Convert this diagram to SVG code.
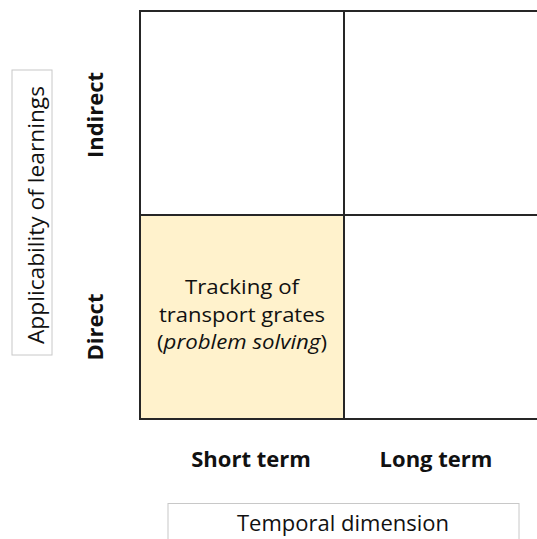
<svg xmlns="http://www.w3.org/2000/svg" width="537" height="539" viewBox="0 0 537 539">
<style>
.cell{fill:#ffffff;stroke:#262626;stroke-width:2}
.hl{fill:#FFF2CC}
.t{font-family:"Open Sans","Noto Sans",sans-serif;font-size:22px;fill:#111;text-anchor:middle}
.c{font-size:20px}
.b{font-weight:bold}
.box{fill:#ffffff;stroke:#c8c8c8;stroke-width:1}
</style>
<rect width="537" height="539" fill="#ffffff"/>
<g id="axis-y">
<rect class="box" x="12" y="70" width="40" height="285"/>
<text class="t" transform="translate(44,215) rotate(-90)" textLength="258" lengthAdjust="spacingAndGlyphs">Applicability of learnings</text>
</g>
<g id="axis-x">
<rect class="box" x="168" y="503.5" width="351" height="50"/>
<text class="t" x="343" y="531">Temporal dimension</text>
</g>
<g id="row-labels">
<text class="t b" transform="translate(103,115) rotate(-90)">Indirect</text>
<text class="t b" transform="translate(103,327) rotate(-90)">Direct</text>
</g>
<g id="col-labels">
<text class="t b" x="251" y="467">Short term</text>
<text class="t b" x="436" y="467">Long term</text>
</g>
<g id="cell-indirect-short"><rect class="cell" x="140" y="11" width="204" height="204"/></g>
<g id="cell-indirect-long"><rect class="cell" x="344" y="11" width="204" height="204"/></g>
<g id="cell-direct-long"><rect class="cell" x="344" y="215" width="204" height="204"/></g>
<g id="cell-direct-short">
<rect class="cell hl" x="140" y="215" width="204" height="204"/>
<text class="t c" x="242" y="294" textLength="114" lengthAdjust="spacingAndGlyphs">Tracking of</text>
<text class="t c" x="242" y="321.5" textLength="166" lengthAdjust="spacingAndGlyphs">transport grates</text>
<text class="t c" x="242" y="349" textLength="170" lengthAdjust="spacingAndGlyphs">(<tspan font-style="italic">problem solving</tspan>)</text>
</g>
<g id="connectors"></g>
</svg>
